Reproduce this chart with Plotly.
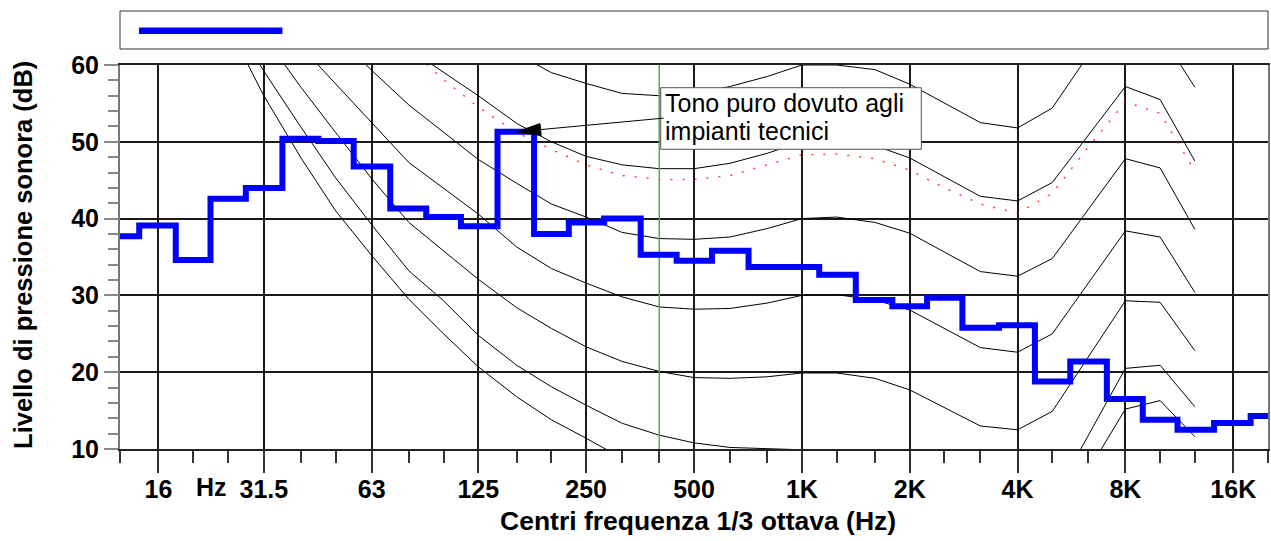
import math
import plotly.graph_objects as go

# ---------------- data ----------------
# 1/3-octave band centres (Hz) and measured level of the blue spectrum (dB)
band_freqs = [12.5, 16, 20, 25, 31.5, 40, 50, 63, 80, 100, 125, 160, 200, 250, 315,
              400, 500, 630, 800, 1000, 1250, 1600, 2000, 2500, 3150, 4000, 5000,
              6300, 8000, 10000, 12500, 16000, 20000]
band_levels = [37.7, 39.1, 34.6, 42.6, 44.0, 50.4, 50.1, 46.8, 41.3, 40.2, 39.0, 51.3,
               38.0, 39.5, 40.0, 35.3, 34.5, 35.8, 33.7, 33.7, 32.7, 29.4, 28.6, 29.7,
               25.8, 26.1, 18.8, 21.4, 16.5, 13.8, 12.5, 13.4, 14.3]

tick_freqs = [16, 31.5, 63, 125, 250, 500, 1000, 2000, 4000, 8000, 16000]
tick_labels = ["16", "31.5", "63", "125", "250", "500", "1K", "2K", "4K", "8K", "16K"]
y_ticks = [10, 20, 30, 40, 50, 60]

# reference curves (black thin lines)
contour_freqs = [25, 31.5, 40, 50, 63, 80, 100, 125, 160, 200, 250, 315, 400, 500, 630,
                 800, 1000, 1250, 1600, 2000, 3150, 4000, 5000, 8000, 10000, 12500]
curve_60 = [None, None, None, None, None, None, None, None, 61.5, 59.0, 57.6, 56.3, 56.0,
            56.3, 57.2, 58.5, 60.0, 60.0, 59.4, 57.5, 52.5, 51.8, 54.4, 68.4, 64.2, 57.1]
curve_50 = [None, None, None, None, None, 62.1, 59.1, 56.0, 52.4, 50.0, 48.1, 47.0, 46.5,
            46.5, 47.2, 48.5, 50.0, 50.2, 49.5, 47.9, 42.9, 42.3, 44.7, 57.2, 55.5, 47.5]
curve_40 = [None, None, None, 64.0, 59.3, 54.8, 51.3, 47.7, 44.6, 41.9, 40.2, 38.2, 37.4,
            37.3, 37.6, 38.7, 40.0, 40.2, 39.5, 38.1, 33.1, 32.5, 34.8, 47.8, 46.6, 38.6]
curve_30 = [None, None, 62.4, 57.6, 52.5, 47.3, 43.9, 40.6, 36.3, 33.5, 31.6, 29.8, 28.5,
            28.2, 28.3, 29.0, 30.0, 30.1, 29.4, 28.1, 23.2, 22.6, 25.0, 38.4, 37.6, 30.4]
curve_20 = [None, 63.8, 57.1, 51.2, 45.2, 39.5, 35.8, 32.1, 28.4, 25.7, 23.3, 21.4, 20.1,
            19.3, 19.2, 19.4, 19.9, 19.9, 19.2, 17.7, 13.0, 12.5, 14.9, 29.3, 29.1, 22.8]
curve_10 = [66.9, 59.2, 51.9, 45.3, 39.2, 33.2, 29.3, 24.8, 20.9, 18.1, 15.7, 13.35, 11.8,
            10.8, 10.2, 10.0, 9.9, 9.9, 9.4, 8.0, None, None, 3.3, 20.5, 20.9, 15.5]
curve_thr = [65.2, 56.0, 47.9, 41.0, 35.2, 29.5, 25.0, 20.7, 16.8, 13.8, 11.4, 8.8, None,
             None, None, None, None, None, None, None, None, None, -0.6, 15.2, 16.3, 11.6]

# red dotted curve
red_freqs = [80, 100, 125, 160, 200, 250, 315, 400, 500, 630, 800, 1000, 1250, 1600, 2000,
             2500, 3150, 4000, 5000, 6300, 8000, 10000, 12500]
red_levels = [62.2, 58.1, 54.5, 51.2, 49.0, 47.0, 45.6, 45.1, 45.1, 45.6, 47.0, 48.3, 48.4,
              47.8, 46.3, 44.0, 41.9, 40.7, 43.3, 49.3, 55.2, 53.7, 46.2]

tone_freq = 400          # green marker line
tone_band = 160          # band pointed by the annotation
note_lines = ["Tono puro dovuto agli", "impianti tecnici"]
x_title = "Centri frequenza 1/3 ottava (Hz)"
y_title = "Livello di pressione sonora (dB)"
y_min, y_max = 10, 60

FONT = "Liberation Sans, Arial, Helvetica, sans-serif"

# ---------------- figure ----------------
fig = go.Figure()

for curve in [curve_60, curve_50, curve_40, curve_30, curve_20, curve_10, curve_thr]:
    fig.add_trace(go.Scatter(x=contour_freqs, y=curve, mode="lines",
                             line=dict(color="#000000", width=1),
                             connectgaps=False, hoverinfo="skip", showlegend=False))

fig.add_trace(go.Scatter(x=red_freqs, y=red_levels, mode="lines",
                         line=dict(color="rgba(255,0,0,0.75)", width=1.5, dash="2px,10px"),
                         hoverinfo="skip", showlegend=False))

fig.add_trace(go.Scatter(x=[tone_freq, tone_freq], y=[y_min, y_max], mode="lines",
                         line=dict(color="#4cae4c", width=1.5),
                         hoverinfo="skip", showlegend=False))

fig.add_trace(go.Scatter(x=band_freqs, y=band_levels, mode="lines",
                         line=dict(color="#0000ff", width=6, shape="hvh"),
                         showlegend=False))

tone_level = band_levels[band_freqs.index(tone_band)]

fig.update_layout(
    width=1271, height=541,
    margin=dict(l=120, r=1, t=65, b=92),
    paper_bgcolor="white", plot_bgcolor="white",
    showlegend=False,
    xaxis=dict(
        type="log",
        range=[math.log10(band_freqs[0]), math.log10(band_freqs[-1])],
        tickmode="array", tickvals=tick_freqs, ticktext=tick_labels,
        tickfont=dict(family=FONT, size=25, color="#000000", weight="bold"),
        ticks="outside", ticklen=22, tickwidth=1.5, tickcolor="#333333",
        ticklabelstandoff=-5,
        showgrid=True, gridcolor="#1a1a1a", gridwidth=1.5,
        showline=True, linecolor="#222222", linewidth=2, mirror=True,
        zeroline=False,
        minor=dict(tickmode="array", tickvals=band_freqs, ticks="outside", ticklen=12,
                   tickwidth=1.5, tickcolor="#333333", showgrid=False),
    ),
    yaxis=dict(
        range=[y_min, y_max],
        tickmode="array", tickvals=y_ticks, ticktext=[str(v) for v in y_ticks],
        tickfont=dict(family=FONT, size=25, color="#000000", weight="bold"),
        ticks="outside", ticklen=14, tickwidth=1.5, tickcolor="#888888",
        showgrid=True, gridcolor="#1a1a1a", gridwidth=1.5,
        showline=True, linecolor="#777777", linewidth=2, mirror=True,
        zeroline=False,
        minor=dict(dtick=2, tick0=0, ticks="outside", ticklen=10, tickwidth=1.5,
                   tickcolor="#888888", showgrid=False),
    ),
)

shapes = [
    # legend box and its blue sample
    dict(type="rect", xref="paper", yref="paper", x0=0, x1=1, y0=1.0417, y1=1.1406,
         line=dict(color="#333333", width=1), fillcolor="white", layer="above"),
    dict(type="line", xref="paper", yref="paper", x0=0.0165, x1=0.1415, y0=1.0893, y1=1.0893,
         line=dict(color="#0000ff", width=6.5), layer="above"),
    # note box
    dict(type="rect", xref="paper", yref="paper", x0=0.4710, x1=0.6980, y0=0.7805, y1=0.9409,
         line=dict(color="#555555", width=1), fillcolor="white", layer="above"),
    # arrow line and head (pixel sized, anchored at the pointed band)
    dict(type="path", xref="x", yref="y", xsizemode="pixel", ysizemode="pixel",
         xanchor=tone_band, yanchor=tone_level,
         path="M0,0 L147,13.7", line=dict(color="#000000", width=1), layer="above"),
    dict(type="path", xref="x", yref="y", xsizemode="pixel", ysizemode="pixel",
         xanchor=tone_band, yanchor=tone_level,
         path="M0,0 L23.3,8.2 L24.5,-3.8 Z", line=dict(color="#000000", width=1),
         fillcolor="#000000", layer="above"),
]
fig.update_layout(shapes=shapes)

annotations = [
    dict(text="<b>%s</b>" % x_title, xref="paper", yref="paper", x=0.5035, y=-0.188,
         xanchor="center", yanchor="middle", showarrow=False,
         font=dict(family=FONT, size=26.5, color="#000000")),
    dict(text="<b>%s</b>" % y_title, xref="paper", yref="paper", x=-0.085, y=0.5065,
         xanchor="center", yanchor="middle", textangle=-90, showarrow=False,
         font=dict(family=FONT, size=25.5, color="#000000")),
    dict(text="<b>Hz</b>", xref="x", yref="paper", x=math.log10(22.45), y=-0.099,
         xanchor="center", yanchor="middle", showarrow=False,
         font=dict(family=FONT, size=25, color="#000000")),
    dict(text=note_lines[0], xref="paper", yref="paper", x=(664 - 120) / 1150,
         y=(449 - 103) / 384, xanchor="left", yanchor="middle", showarrow=False,
         font=dict(family=FONT, size=25, color="#000000")),
    dict(text=note_lines[1], xref="paper", yref="paper", x=(664 - 120) / 1150,
         y=(449 - 131.3) / 384, xanchor="left", yanchor="middle", showarrow=False,
         font=dict(family=FONT, size=25, color="#000000")),
]
fig.update_layout(annotations=annotations)

fig.write_html("out.html", config={"displayModeBar": False},
               post_script="document.body.style.margin='0px';")
